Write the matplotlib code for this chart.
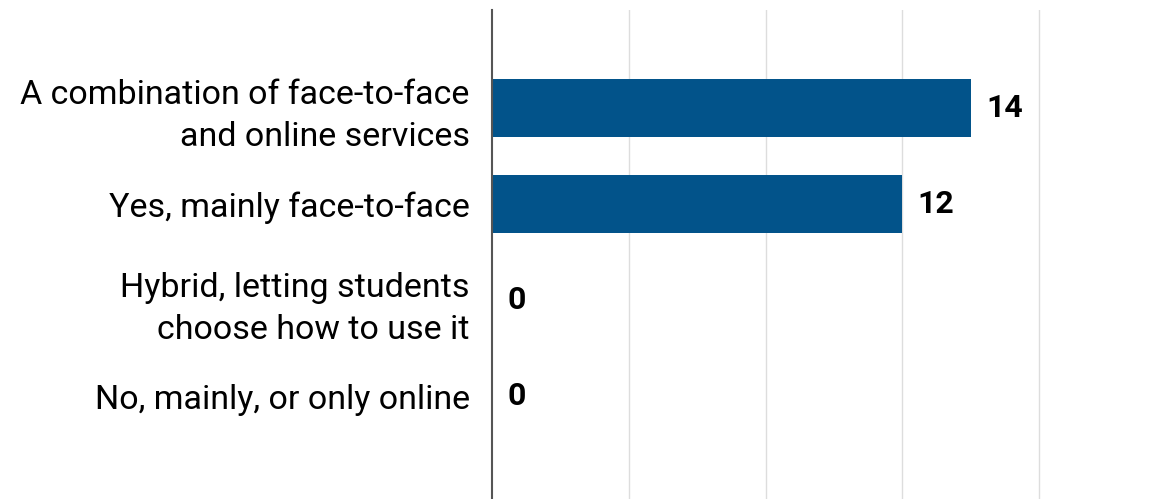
import matplotlib.pyplot as plt

categories = [
    "A combination of face-to-face\nand online services",
    "Yes, mainly face-to-face",
    "Hybrid, letting students\nchoose how to use it",
    "No, mainly, or only online",
]
values = [14, 12, 0, 0]
grid_ticks = [4, 8, 12, 16]

plt.rcParams['font.family'] = ['Roboto', 'DejaVu Sans']

fig = plt.figure(figsize=(11.59, 4.99), dpi=100)
ax = fig.add_axes([492 / 1159, 0, 667 / 1159, 489 / 499])

pos = list(range(len(categories)))
ax.barh(pos, values, height=0.6, color='#02538a', zorder=3)

for y, v in zip(pos, values):
    ax.annotate(str(v), (v, y), xytext=(11, 0), textcoords='offset points',
                ha='left', va='center', fontsize=23, fontweight='bold', color='black')

ax.set_xlim(0, 19.5)
ax.set_ylim(4.07, -1.02)
ax.set_xticks(grid_ticks)
ax.set_xticklabels([])
ax.tick_params(axis='x', length=0)
ax.grid(axis='x', color='#dddddd', linewidth=1, zorder=0)

ax.set_yticks(pos)
ax.set_yticklabels(categories, fontsize=24.5, linespacing=1.4)
ax.tick_params(axis='y', length=0, pad=16)

for s in ['top', 'right', 'bottom']:
    ax.spines[s].set_visible(False)
ax.spines['left'].set_color('#555555')
ax.spines['left'].set_linewidth(1.5)
ax.spines['left'].set_zorder(4)

fig.savefig('out.png', dpi=100)
